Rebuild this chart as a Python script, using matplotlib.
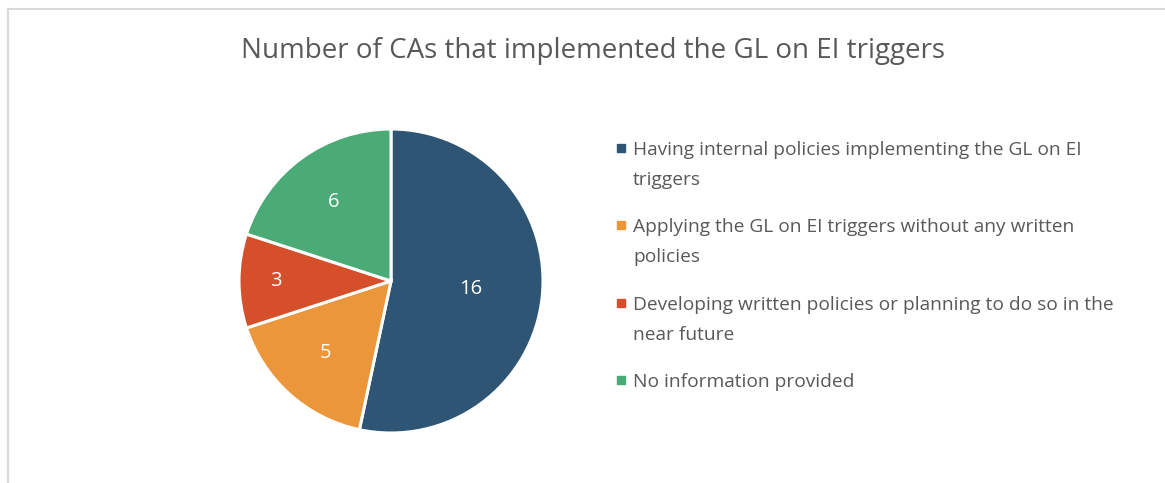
import numpy as np
import matplotlib.pyplot as plt
from matplotlib.patches import Rectangle
from matplotlib.lines import Line2D

title = 'Number of CAs that implemented the GL on EI triggers'
labels = ['Having internal policies implementing the GL on EI\ntriggers',
          'Applying the GL on EI triggers without any written\npolicies',
          'Developing written policies or planning to do so in the\nnear future',
          'No information provided']
values = [16, 5, 3, 6]
colors = ['#2E5573', '#EC963C', '#D54F2A', '#4AAB76']

plt.rcParams['font.family'] = ['Open Sans', 'DejaVu Sans']
W, H = 1165, 483
fig = plt.figure(figsize=(W / 100, H / 100), dpi=100)

# frame (only top and left edges visible)
fig.add_artist(Line2D([8 / W, 1], [1 - 9 / H, 1 - 9 / H], color='#D9D9D9', lw=1.5))
fig.add_artist(Line2D([8 / W, 8 / W], [0, 1 - 9 / H], color='#D9D9D9', lw=1.5))

fig.text(593 / W, 1 - 58 / H, title, ha='center', va='baseline', fontsize=20, color='#595959')

cx, cy, r = 391, 281, 152
ax = fig.add_axes([(cx - r) / W, (H - cy - r) / H, 2 * r / W, 2 * r / H])
wedges, _ = ax.pie(values, colors=colors, startangle=90, counterclock=False,
                   wedgeprops=dict(edgecolor='white', linewidth=2.2))
ax.set_xlim(-1, 1)
ax.set_ylim(-1, 1)

dist = [0.53, 0.64, 0.76, 0.64]
for w, v, d in zip(wedges, values, dist):
    ang = np.deg2rad((w.theta1 + w.theta2) / 2)
    ax.text(d * np.cos(ang), d * np.sin(ang), str(v), ha='center', va='center',
            fontsize=14.5, color='white')

# legend
for i, (lab, c) in enumerate(zip(labels, colors)):
    base = 155 + i * 77.3
    fig.add_artist(Rectangle((617 / W, 1 - (base - 3) / H), 8 / W, 8 / H, color=c))
    for j, line in enumerate(lab.split('\n')):
        fig.text(633 / W, 1 - (base + 30 * j) / H, line, ha='left', va='baseline',
                 fontsize=13.8, color='#595959')

fig.savefig('out.png', dpi=100)
